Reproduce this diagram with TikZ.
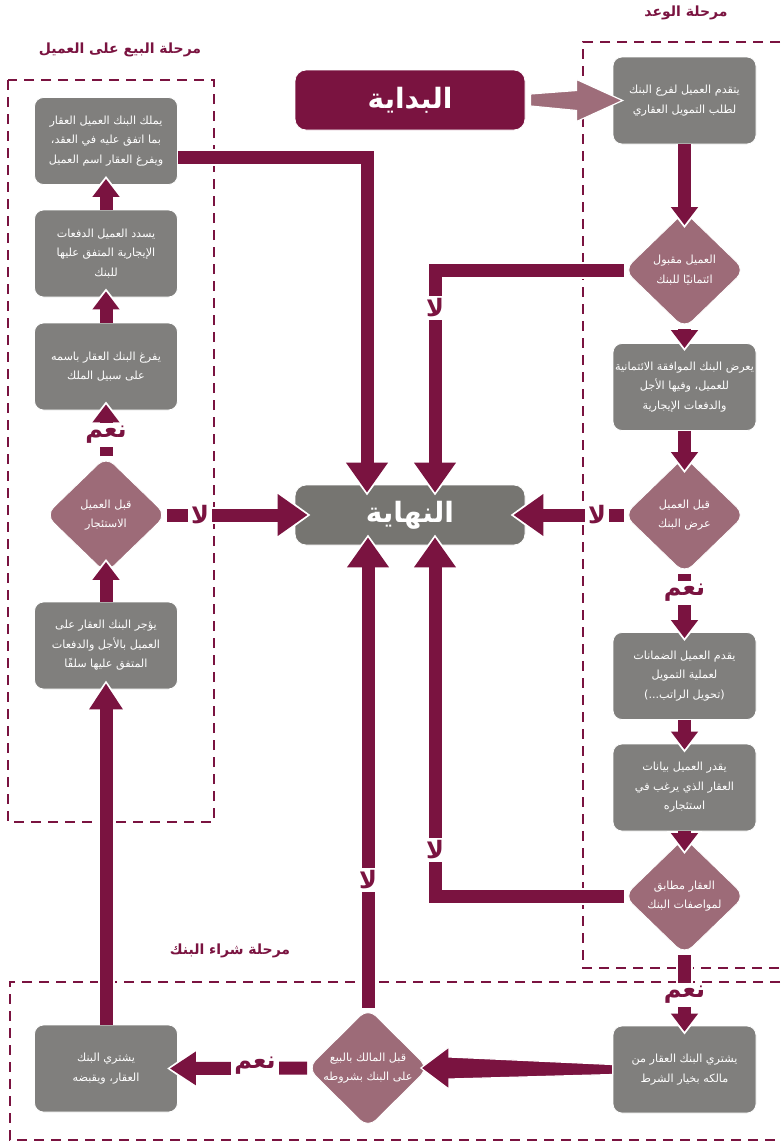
\documentclass[tikz,border=0pt]{standalone}
\usepackage{fontspec}
\usetikzlibrary{shapes.geometric,arrows.meta,calc}
\newfontfamily\arfont[Script=Arabic]{DejaVu Sans}
\TeXXeTstate=1
\newcommand{\rtl}[1]{\beginR #1\endR}
\definecolor{maroon}{RGB}{122,19,64}
\definecolor{mauve}{RGB}{157,107,120}
\definecolor{boxgray}{RGB}{128,127,125}
\definecolor{endgray}{RGB}{118,117,113}
\definecolor{startarrow}{RGB}{158,109,122}
\tikzset{
  stepbox/.style={rectangle, rounded corners=9pt, fill=boxgray, draw=white, line width=0.8pt,
    minimum width=143pt, minimum height=87pt, text=white, align=center,
    font=\arfont\fontsize{11.2}{19.5}\selectfont, inner sep=1pt},
  decide/.style={diamond, aspect=1, rounded corners=11pt, fill=mauve, draw=white, line width=0.8pt,
    minimum width=121pt, minimum height=117pt, inner sep=0pt, text=white, align=center,
    font=\arfont\fontsize{11.2}{19.5}\selectfont},
  terminal/.style={rectangle, rounded corners=11pt, minimum width=230pt, minimum height=60pt,
    text=white, font=\arfont\bfseries\fontsize{28}{30}\selectfont, draw=white, line width=0.8pt},
  phase/.style={text=maroon, font=\arfont\bfseries\fontsize{14}{16}\selectfont},
  lbl/.style={fill=white, text=maroon, font=\arfont\bfseries\fontsize{24}{26}\selectfont, inner sep=3pt},
  frame/.style={draw=maroon, line width=1.1pt, dash pattern=on 10pt off 7pt},
  conn/.style={draw=maroon, line width=13pt},
  sh/.style={-{Triangle[width=26pt,length=18pt]}},
  shw/.style={-{Triangle[width=34pt,length=23pt]}},
  mh/.style={-{Triangle[width=32pt,length=26pt]}},
  mhw/.style={-{Triangle[width=40pt,length=31pt]}},
  bh/.style={-{Triangle[width=40pt,length=30pt]}},
  bhw/.style={-{Triangle[width=48pt,length=35pt]}},
}
\newcommand{\flowarrow}[2]{\draw[line width=17pt,white,#1w,shorten >=-3pt] #2; \draw[conn,#1] #2;}
\begin{document}
\begin{tikzpicture}[x=1pt,y=-1pt]
\useasboundingbox (0,0) rectangle (780,1146);
% frames
\draw[frame] (8,80) rectangle (214,822);
\draw[frame] (780,42) -- (583,42) -- (583,968) -- (780,968);
\draw[frame] (780,982) -- (10,982) -- (10,1140) -- (780,1140);
\node[phase] (p1) at (686,13) {\rtl{مرحلة الوعد}};
\node[phase] (p2) at (120,50) {\rtl{مرحلة البيع على العميل}};
\node[phase] (p3) at (230,951) {\rtl{مرحلة شراء البنك}};
% terminals
\node[terminal, fill=maroon] (start) at (410,100) {\rtl{البداية}};
\node[terminal, fill=endgray] (end) at (410,515) {\rtl{النهاية}};
% right column
\node[stepbox] (r1) at (684.5,100.5) {\rtl{يتقدم العميل لفرع البنك}\\\rtl{لطلب التمويل العقاري}};
\node[decide] (d1) at (684.5,270) {\rtl{العميل مقبول}\\\rtl{ائتمانيًا للبنك}};
\node[stepbox] (r2) at (684.5,387) {\rtl{يعرض البنك الموافقة الائتمانية}\\\rtl{للعميل، وفيها الأجل}\\\rtl{والدفعات الإيجارية}};
\node[decide] (d2) at (684.5,515) {\rtl{قبل العميل}\\\rtl{عرض البنك}};
\node[stepbox] (r3) at (684.5,676) {\rtl{يقدم العميل الضمانات}\\\rtl{لعملية التمويل}\\\rtl{(تحويل الراتب...)}};
\node[stepbox] (r4) at (684.5,787.5) {\rtl{يقدر العميل بيانات}\\\rtl{العقار الذي يرغب في}\\\rtl{استئجاره}};
\node[decide] (d3) at (684.5,896) {\rtl{العقار مطابق}\\\rtl{لمواصفات البنك}};
\node[stepbox] (r5) at (684.5,1069.5) {\rtl{يشتري البنك العقار من}\\\rtl{مالكه بخيار الشرط}};
% bottom / left
\node[decide] (d4) at (368,1068) {\rtl{قبل المالك بالبيع}\\\rtl{على البنك بشروطه}};
\node[stepbox] (l6) at (106,1068.5) {\rtl{يشتري البنك}\\\rtl{العقار، ويقبضه}};
\node[stepbox] (l5) at (106,645.5) {\rtl{يؤجر البنك العقار على}\\\rtl{العميل بالأجل والدفعات}\\\rtl{المتفق عليها سلفًا}};
\node[decide] (d5) at (106,515) {\rtl{قبل العميل}\\\rtl{الاستئجار}};
\node[stepbox] (l3) at (106,366.5) {\rtl{يفرغ البنك العقار باسمه}\\\rtl{على سبيل الملك}};
\node[stepbox] (l2) at (106,253.5) {\rtl{يسدد العميل الدفعات}\\\rtl{الإيجارية المتفق عليها}\\\rtl{للبنك}};
\node[stepbox] (l1) at (106,141) {\rtl{يملك البنك العميل العقار}\\\rtl{بما اتفق عليه في العقد،}\\\rtl{ويفرغ العقار اسم العميل}};
% start arrow (tapered)
\fill[startarrow, draw=white, line width=1.2pt] ($(start.east)+(5,-6)$) -- ($(r1.west)+(-36,-10)$) -- ($(r1.west)+(-36,-21)$) -- ($(r1.west)+(10,0)$) -- ($(r1.west)+(-36,21)$) -- ($(r1.west)+(-36,10)$) -- ($(start.east)+(5,6)$) -- cycle;
% right column arrows
\flowarrow{sh}{(r1.south) -- ($(d1.north)+(0,14)$)}
\flowarrow{sh}{(d1.south) -- ($(r2.north)+(0,5)$)}
\flowarrow{sh}{(r2.south) -- ($(d2.north)+(0,14)$)}
\flowarrow{sh}{(d2.south) -- ($(r3.north)+(0,6)$)}
\node[lbl] (y1) at (684.5,593) {\rtl{نعم}};
\flowarrow{sh}{(r3.south) -- ($(r4.north)+(0,6)$)}
\flowarrow{sh}{(r4.south) -- ($(d3.north)+(0,14)$)}
\flowarrow{sh}{(d3.south) -- ($(r5.north)+(0,6)$)}
\node[lbl] (y2) at (684.5,995) {\rtl{نعم}};
% R5 -> D4 (tapered)
\fill[maroon, draw=white, line width=1.2pt] ($(r5.west)+(0,-5)$) -- ($(d4.east)+(20,-11)$) -- ($(d4.east)+(20,-21)$) -- ($(d4.east)+(-8,0)$) -- ($(d4.east)+(20,21)$) -- ($(d4.east)+(20,11)$) -- ($(r5.west)+(0,5)$) -- cycle;
\flowarrow{mh}{(d4.west) -- ($(l6.east)+(-8,0)$)}
\node[lbl] (y3) at (255,1066) {\rtl{نعم}};
\flowarrow{mh}{(l6.north) -- ($(l5.south)+(0,-6)$)}
\flowarrow{sh}{(l5.north) -- ($(d5.south)+(0,-12)$)}
\flowarrow{sh}{(d5.north) -- ($(l3.south)+(0,-6)$)}
\node[lbl] (y4) at (106,435) {\rtl{نعم}};
\flowarrow{sh}{(l3.north) -- ($(l2.south)+(0,-6)$)}
\flowarrow{sh}{(l2.north) -- ($(l1.south)+(0,-6)$)}
% into end
\flowarrow{bh}{($(l1.east)+(0,16)$) -| ($(end.north)+(-43,8)$)}
\flowarrow{bh}{(d1.west) -| ($(end.north)+(25,8)$)}
\node[lbl] (n1) at (435,308) {\rtl{لا}};
\flowarrow{bh}{(d5.east) -- ($(end.west)+(13,0)$)}
\node[lbl] (n2) at (200,515) {\rtl{لا}};
\flowarrow{bh}{(d2.west) -- ($(end.east)+(-12,0)$)}
\node[lbl] (n3) at (597,515) {\rtl{لا}};
\flowarrow{bh}{(d4.north) -- ($(end.south)+(-42,-8)$)}
\node[lbl] (n4) at (368,880) {\rtl{لا}};
\flowarrow{bh}{(d3.west) -| ($(end.south)+(25,-8)$)}
\node[lbl] (n5) at (435,850) {\rtl{لا}};
\end{tikzpicture}
\end{document}
